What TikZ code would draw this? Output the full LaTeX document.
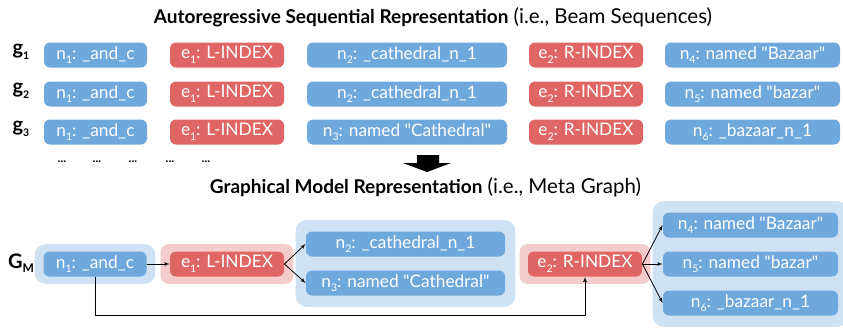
\documentclass[tikz,border=0pt]{standalone}
\usepackage{fontspec}
\setmainfont{Lato}[Ligatures=TeXOff]
\usetikzlibrary{arrows, positioning, fit, backgrounds}

\definecolor{nodeblue}{HTML}{6FA8DC}
\definecolor{edgered}{HTML}{E06666}
\definecolor{groupblue}{HTML}{CFE2F3}
\definecolor{grouppink}{HTML}{F4CCCC}

% label with a lowered index
\newcommand{\lbl}[2]{#1\raisebox{-4.5pt}{\fontsize{10.5}{10.5}\selectfont #2}}

\begin{document}
\begin{tikzpicture}[x=1pt, y=-1pt, >=latex', line width=0.8pt,
    font=\fontsize{17.3}{19}\selectfont]

    \tikzset{
      nodebox/.style = {fill=nodeblue, text=white, rounded corners=6pt,
        minimum height=25pt, inner sep=0pt},
      edgebox/.style = {nodebox, fill=edgered},
      groupbg/.style = {fill=groupblue, rounded corners=11pt},
      edgebg/.style  = {fill=grouppink, rounded corners=8pt},
      title/.style   = {font=\fontsize{20.5}{22}\selectfont},
      rowlabel/.style= {font=\fontsize{20}{20}\selectfont\bfseries},
      dots/.style    = {font=\fontsize{12}{12}\selectfont\bfseries},
    }

    \useasboundingbox (0,0) rectangle (843,327);

    % autoregressive beam sequences
    \node[title] (top) at (433,17)
      {{\fontsize{19}{22}\selectfont\bfseries Autoregressive Sequential Representation} (i.e., Beam Sequences)};

    \node[rowlabel] (g1) at (21,52) {\lbl{g}{1}};
    \node[rowlabel] (g2) at (21,91) {\lbl{g}{2}};
    \node[rowlabel] (g3) at (21,129) {\lbl{g}{3}};

    \node[nodebox, minimum width=103pt] (g1n1) at (95.5,55) {\lbl{n}{1}: \_and\_c};
    \node[edgebox, minimum width=114pt] (g1e1) at (227,55) {\lbl{e}{1}: L-INDEX};
    \node[nodebox, minimum width=200pt] (g1n2) at (407,55) {\lbl{n}{2}: \_cathedral\_n\_1};
    \node[edgebox, minimum width=114pt] (g1e2) at (586,55) {\lbl{e}{2}: R-INDEX};
    \node[nodebox, minimum width=175pt] (g1n4) at (752.5,55) {\lbl{n}{4}: named "Bazaar"};

    \node[nodebox, minimum width=103pt] (g2n1) at (95.5,94) {\lbl{n}{1}: \_and\_c};
    \node[edgebox, minimum width=114pt] (g2e1) at (227,94) {\lbl{e}{1}: L-INDEX};
    \node[nodebox, minimum width=200pt] (g2n2) at (407,94) {\lbl{n}{2}: \_cathedral\_n\_1};
    \node[edgebox, minimum width=114pt] (g2e2) at (586,94) {\lbl{e}{2}: R-INDEX};
    \node[nodebox, minimum width=175pt] (g2n5) at (752.5,94) {\lbl{n}{5}: named "bazar"};

    \node[nodebox, minimum width=103pt] (g3n1) at (95.5,132) {\lbl{n}{1}: \_and\_c};
    \node[edgebox, minimum width=114pt] (g3e1) at (227,132) {\lbl{e}{1}: L-INDEX};
    \node[nodebox, minimum width=200pt] (g3n3) at (407,132) {\lbl{n}{3}: named "Cathedral"};
    \node[edgebox, minimum width=114pt] (g3e2) at (586,132) {\lbl{e}{2}: R-INDEX};
    \node[nodebox, minimum width=175pt] (g3n6) at (752.5,132) {\lbl{n}{6}: \_bazaar\_n\_1};

    \foreach \x in {62,97,133,170,206}
      \node[dots] (dot\x) at (\x,162) {...};

    \fill (417,155) -- (439,155) -- (439,163) -- (451,163) -- (427,172)
      -- (403,163) -- (417,163) -- cycle;

    % meta graph
    \node[title] (bottom) at (425.5,187)
      {{\fontsize{19}{22}\selectfont\bfseries Graphical Model Representation} (i.e., Meta Graph)};

    \node[rowlabel] (gm) at (21,263) {G\raisebox{-4.5pt}{\fontsize{12}{12}\selectfont M}};

    \node[nodebox, minimum width=103pt] (mn1) at (95,264) {\lbl{n}{1}: \_and\_c};
    \node[edgebox, minimum width=114pt] (me1) at (227,264) {\lbl{e}{1}: L-INDEX};
    \node[nodebox, minimum width=199pt] (mn2) at (405.5,244) {\lbl{n}{2}: \_cathedral\_n\_1};
    \node[nodebox, minimum width=199pt] (mn3) at (405.5,283) {\lbl{n}{3}: named "Cathedral"};
    \node[edgebox, minimum width=114pt] (me2) at (585,264) {\lbl{e}{2}: R-INDEX};
    \node[nodebox, minimum width=175pt] (mn4) at (750.5,225) {\lbl{n}{4}: named "Bazaar"};
    \node[nodebox, minimum width=175pt] (mn5) at (750.5,264) {\lbl{n}{5}: named "bazar"};
    \node[nodebox, minimum width=175pt] (mn6) at (750.5,303) {\lbl{n}{6}: \_bazaar\_n\_1};

    \begin{scope}[on background layer]
      \node[groupbg, fit=(mn1), inner xsep=8.5pt, inner ysep=7pt] (bg1) {};
      \node[edgebg, fit=(me1), inner xsep=9pt, inner ysep=7pt] (bg2) {};
      \node[groupbg, fit=(mn2) (mn3), inner xsep=10pt, inner ysep=11pt] (bg3) {};
      \node[edgebg, fit=(me2), inner xsep=8pt, inner ysep=7pt] (bg4) {};
      \node[groupbg, fit=(mn4) (mn6), inner xsep=10pt, inner ysep=11pt] (bg5) {};
    \end{scope}

    \path[->]
      (mn1) edge (me1)
      (me1.east) edge (mn2.west)
      (me1.east) edge (mn3.west)
      (me2.east) edge (mn4.west)
      (me2.east) edge (mn5.west)
      (me2.east) edge (mn6.west);

    \draw[->] (mn1.south) -- ++(0,38.5) -| (me2.south);

  \end{tikzpicture}
\end{document}
